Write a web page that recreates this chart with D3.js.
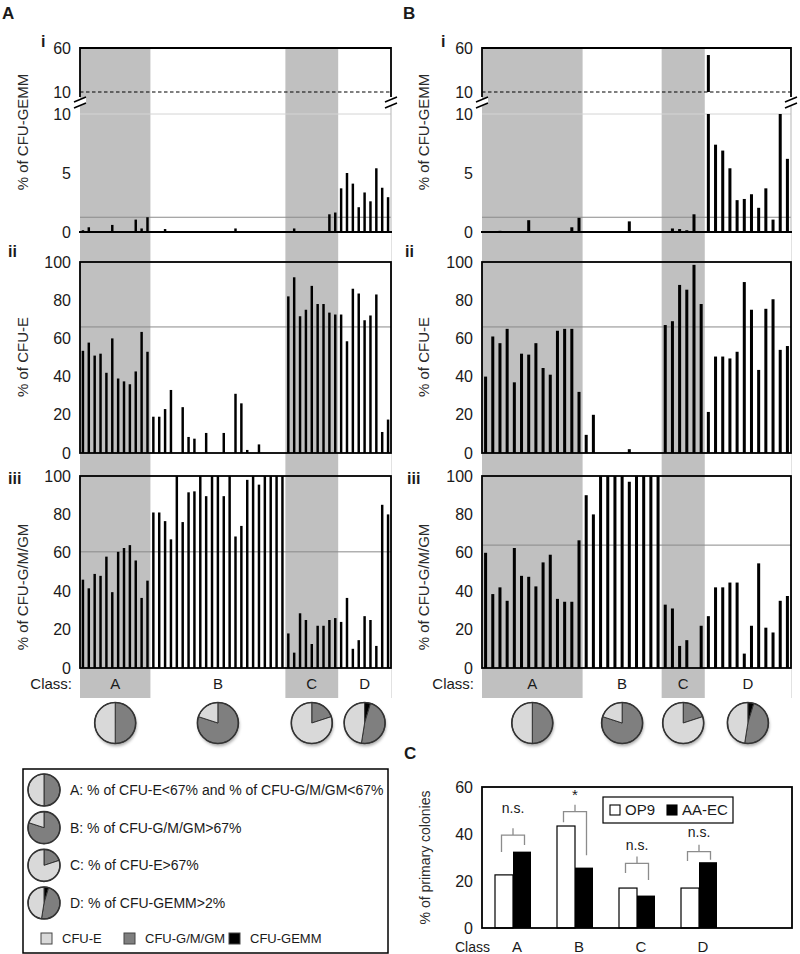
<!DOCTYPE html>
<html><head><meta charset="utf-8">
<script src="https://cdn.jsdelivr.net/npm/d3@7"></script>
<style>
html,body{margin:0;padding:0;background:#fff;}
svg{display:block;font-family:'Liberation Sans',Arial,sans-serif;}
</style></head><body>
<svg id="c" width="800" height="954"></svg>
<script>
// ---------------- data ----------------
const classNames = ['A','B','C','D'];
const classSizesA = [12,23,9,9];
const classSizesB = [14,11,6,12];
const shadedClasses = ['A','C'];

const gemmA = [0.15,0.4,0,0,0,0.6,0,0,0,1.05,0.3,1.25,
  0,0,0.25,0,0,0,0,0,0,0,0,0,0,0,0.3,0,0,0,0,0,0,0,0,
  0,0.3,0,0,0,0,0,1.5,1.65,
  3.7,5.0,4.1,2.1,3.35,2.6,5.4,3.75,2.95];
const eA = [53.5,57.8,51,52,42,60,39,37.5,36,42.7,63.4,53,
  19,19,23,33,0,24,8.4,7.5,0,10.5,0,0,10.5,0,31,26,1.6,0,4.5,0,0,0,0,
  82,92,71.6,75,87.5,78,78,73.5,72.5,
  72.5,58.5,86,83.5,69.5,72,83,11,17.5];
const gmA = [46,41.5,49,48,58,39.5,60.5,62.5,64,56,36.5,45.5,
  81,81,76.5,67,100,76,91.5,92,100,89.5,100,100,89.5,100,68.5,74,98,100,95.5,100,100,100,100,
  18,8,28.5,25,12.5,22,22,25,26,
  24,36.5,10,14.5,27,25,11.5,85,80];

const gemmB = [0,0,0.1,0,0,0,1.0,0,0,0,0,0,0.4,1.2,
  0,0,0,0,0,0,0.9,0,0,0,0,
  0,0.3,0.25,0.15,1.5,0,
  52,7.4,6.9,5.4,2.7,2.8,3.2,2.05,3.7,1.05,10,6.2];
const eB = [40,61,57.5,65,37,52,51.5,57.5,44.5,41,64,65,65,32,
  9.5,20,0,0,0,0,2,0,0,0,0,
  67,69,88,85.5,98.5,78,
  21.5,50.5,50.5,49.5,53,89.5,75,43.5,75.5,80.5,54,56];
const gmB = [60,38.5,42,35,62.5,48,47.5,42.5,55,59,36,34.5,34.5,66.5,
  90,80,100,100,100,100,97,100,100,100,100,
  33,31,11.5,14.5,0,22,
  27,42,42,44.5,44.5,7.5,22,54.5,21,18.5,35,37.5];

const threshGemm = 1.25;
const threshE = 66;
const threshGmA = 60.5;
const threshGmB = 64;

const ticksGemmLow = [0,5,10];
const ticksGemmUp = [10,60];
const ticksPct = [0,20,40,60,80,100];

// pie composition per class: [CFU-GEMM, CFU-G/M/GM, CFU-E]
const pieGemm = [0,0,0,4.7];
const pieGm = [50,80,20,47.8];
const pieE = [50,20,80,47.5];
const seriesNames = ['CFU-E','CFU-G/M/GM','CFU-GEMM'];
const legendTexts = ['A: % of CFU-E<67% and % of CFU-G/M/GM<67%','B: % of CFU-G/M/GM>67%','C: % of CFU-E>67%','D: % of CFU-GEMM>2%'];

// panel C
const primaryClasses = ['A','B','C','D'];
const groups = ['OP9','AA-EC'];
const op9 = [22.6,43.4,17,17];
const aaec = [32.5,25.7,13.8,28];
const ticksC = [0,20,40,60];
const sigLabels = ['n.s.','*','n.s.','n.s.'];
const sigLevel = [51,56.8,35.3,40.9];
const bracketTop = [39.5,49.5,27.5,32.5];
const bracketLeft = [32.3,45,23.4,28.5];
const bracketRight = [35.3,31,20.4,29];

// ---------------- drawing ----------------
const svg = d3.select('#c');
const TXT = '#1a1a1a';
const SHADE = '#c0c0c0';
const colE = '#d9d9d9', colGM = '#7f7f7f', colGEMM = '#000';

const defs = svg.append('defs');
const f = defs.append('filter').attr('id','sh').attr('x','-30%').attr('y','-30%').attr('width','160%').attr('height','170%');
f.append('feDropShadow').attr('dx',1).attr('dy',2.5).attr('stdDeviation',1.6).attr('flood-color','#000').attr('flood-opacity',0.35);

const L = {iTop:48, iDash:92, iLowTop:114, iBot:232, iiTop:262, iiBot:453, iiiTop:476, iiiBot:668, shadeBot:698, classY:684, pieY:723, pieR:20.5};

function drawPie(g, cx, cy, r, k, shadow){
  const vals = [pieGemm[k], pieGm[k], pieE[k]];
  const cols = [colGEMM, colGM, colE];
  const arcs = d3.pie().sort(null).value(d=>d)(vals);
  const arc = d3.arc().innerRadius(0).outerRadius(r);
  const pg = g.append('g').attr('transform',`translate(${cx},${cy})`);
  if (shadow) pg.append('circle').attr('r',r).attr('fill','#fff').attr('filter','url(#sh)');
  pg.selectAll('path').data(arcs).join('path')
    .attr('d',arc).attr('fill',(d,i)=>cols[i])
    .attr('stroke','#333').attr('stroke-width',1);
  pg.append('circle').attr('r',r).attr('fill','none').attr('stroke','#333').attr('stroke-width',1.6);
}

function drawPanel(cfg){
  const g = svg.append('g');
  const n = cfg.e.length;
  const x = d3.scaleBand().domain(d3.range(n)).range([cfg.x0,cfg.x1]).paddingInner(0.58).paddingOuter(0.29);
  const step = x.step();
  let start = 0; const ranges = [];
  cfg.sizes.forEach((s,i)=>{ ranges.push({name:classNames[i], a:cfg.x0+start*step, b:cfg.x0+(start+s)*step}); start += s; });

  g.selectAll('rect.shade').data(ranges.filter(r=>shadedClasses.includes(r.name))).join('rect')
    .attr('x',d=>d.a).attr('width',d=>d.b-d.a).attr('y',L.iTop).attr('height',L.shadeBot-L.iTop).attr('fill',SHADE);
  g.append('line').attr('x1',cfg.x1+0.5).attr('x2',cfg.x1+0.5).attr('y1',L.iBot).attr('y2',L.shadeBot).attr('stroke','#e2e2e2');

  // ---- panel i (broken axis) ----
  const yLow = d3.scaleLinear().domain([0,10]).range([L.iBot,L.iLowTop]);
  const yUp = d3.scaleLinear().domain([10,60]).range([L.iDash,L.iTop]);
  g.append('line').attr('x1',cfg.x0).attr('x2',cfg.x1).attr('y1',yLow(10)).attr('y2',yLow(10)).attr('stroke','#d4d4d4');
  g.append('line').attr('x1',cfg.x0).attr('x2',cfg.x1).attr('y1',yLow(threshGemm)).attr('y2',yLow(threshGemm)).attr('stroke','#8a8a8a').attr('stroke-width',1);
  g.append('line').attr('x1',cfg.x0).attr('x2',cfg.x1).attr('y1',yUp(10)).attr('y2',yUp(10)).attr('stroke','#000').attr('stroke-width',1.2).attr('stroke-dasharray','3.5,2.5');
  g.selectAll('rect.gl').data(cfg.gemm.map((v,i)=>({v,i})).filter(d=>d.v>0)).join('rect')
    .attr('x',d=>x(d.i)).attr('width',x.bandwidth())
    .attr('y',d=>yLow(Math.min(d.v,10))).attr('height',d=>L.iBot-yLow(Math.min(d.v,10))).attr('fill','#000');
  g.selectAll('rect.gu').data(cfg.gemm.map((v,i)=>({v,i})).filter(d=>d.v>10)).join('rect')
    .attr('x',d=>x(d.i)).attr('width',x.bandwidth())
    .attr('y',d=>yUp(Math.min(d.v,60))).attr('height',d=>yUp(10)-yUp(Math.min(d.v,60))).attr('fill','#000');
  g.append('path').attr('d',`M${cfg.x0},${L.iDash+5}V${L.iTop}H${cfg.x1}V${L.iDash+5}`).attr('fill','none').attr('stroke','#000').attr('stroke-width',1.8);
  g.append('line').attr('x1',cfg.x1).attr('x2',cfg.x1).attr('y1',L.iDash+14).attr('y2',L.iBot).attr('stroke','#b5b5b5');
  g.append('line').attr('x1',cfg.x0-1).attr('x2',cfg.x1+1).attr('y1',L.iBot).attr('y2',L.iBot).attr('stroke','#000').attr('stroke-width',2);
  [cfg.x0,cfg.x1].forEach(bx=>{
    const yc = (L.iDash+L.iLowTop)/2 - 2;
    g.append('path').attr('d',`M${bx-6},${yc+1}L${bx+6},${yc-4}L${bx+6},${yc+2}L${bx-6},${yc+7}Z`).attr('fill','#fff');
    g.append('line').attr('x1',bx-6).attr('y1',yc+1).attr('x2',bx+6).attr('y2',yc-4).attr('stroke','#000').attr('stroke-width',1.5);
    g.append('line').attr('x1',bx-6).attr('y1',yc+7).attr('x2',bx+6).attr('y2',yc+2).attr('stroke','#000').attr('stroke-width',1.5);
  });
  const axStyle = sel => { sel.select('.domain').remove(); sel.selectAll('text').attr('font-size',16).attr('fill',TXT).attr('font-family',"'Liberation Sans',Arial,sans-serif"); };
  g.append('g').attr('transform',`translate(${cfg.x0},0)`).call(d3.axisLeft(yLow).tickValues(ticksGemmLow).tickSize(0).tickPadding(9)).call(axStyle);
  g.append('g').attr('transform',`translate(${cfg.x0},0)`).call(d3.axisLeft(yUp).tickValues(ticksGemmUp).tickSize(0).tickPadding(9)).call(axStyle);

  // ---- panels ii & iii ----
  const yE = d3.scaleLinear().domain([0,100]).range([L.iiBot,L.iiTop]);
  const yG = d3.scaleLinear().domain([0,100]).range([L.iiiBot,L.iiiTop]);
  [[yE,cfg.e,threshE],[yG,cfg.gm,cfg.threshGm]].forEach(([y,vals,th])=>{
    g.append('line').attr('x1',cfg.x0).attr('x2',cfg.x1).attr('y1',y(th)).attr('y2',y(th)).attr('stroke','#8a8a8a').attr('stroke-width',1);
    g.append('g').selectAll('rect').data(vals.map((v,i)=>({v,i})).filter(d=>d.v>0)).join('rect')
      .attr('x',d=>x(d.i)).attr('width',x.bandwidth())
      .attr('y',d=>y(d.v)).attr('height',d=>y(0)-y(d.v)).attr('fill','#000');
    g.append('rect').attr('x',cfg.x0).attr('y',y(100)).attr('width',cfg.x1-cfg.x0).attr('height',y(0)-y(100))
      .attr('fill','none').attr('stroke','#000').attr('stroke-width',1.8);
    g.append('g').attr('transform',`translate(${cfg.x0},0)`).call(d3.axisLeft(y).tickValues(ticksPct).tickSize(0).tickPadding(9)).call(axStyle);
  });

  g.append('text').attr('x',cfg.x0-8).attr('y',L.classY).attr('dy','0.35em').attr('text-anchor','end').attr('font-size',15).attr('fill',TXT).text('Class:');
  g.selectAll('text.cl').data(ranges).join('text').attr('class','cl')
    .attr('x',d=>(d.a+d.b)/2).attr('y',L.classY).attr('dy','0.35em').attr('text-anchor','middle').attr('font-size',15).attr('fill',TXT).text(d=>d.name);

  ranges.forEach((r,k)=>drawPie(g,(r.a+r.b)/2,L.pieY,L.pieR,k,true));

  g.append('text').attr('x',cfg.letterX).attr('y',19).attr('font-size',17).attr('font-weight','bold').attr('fill',TXT).text(cfg.letter);
  g.append('text').attr('x',cfg.iX).attr('y',47).attr('font-size',16).attr('font-weight','bold').attr('fill',TXT).text('i');
  g.append('text').attr('x',cfg.iiX).attr('y',257).attr('font-size',16).attr('font-weight','bold').attr('fill',TXT).text('ii');
  g.append('text').attr('x',cfg.iiiX).attr('y',484).attr('font-size',16).attr('font-weight','bold').attr('fill',TXT).text('iii');
  [['% of CFU-GEMM',132],['% of CFU-E',357],['% of CFU-G/M/GM',587]].forEach(([t,yc])=>{
    g.append('text').attr('transform',`translate(${cfg.titleX},${yc}) rotate(-90)`).attr('text-anchor','middle').attr('dy','0.35em')
      .attr('font-size',15).attr('fill','#2a2a2a').text(t);
  });
}

drawPanel({x0:80,x1:391,sizes:classSizesA,gemm:gemmA,e:eA,gm:gmA,threshGm:threshGmA,letter:'A',letterX:2,iX:41,iiX:8,iiiX:8,titleX:23});
drawPanel({x0:482,x1:791,sizes:classSizesB,gemm:gemmB,e:eB,gm:gmB,threshGm:threshGmB,letter:'B',letterX:403,iX:441,iiX:405,iiiX:407,titleX:424});

// ---------------- legend box ----------------
const lg = svg.append('g');
lg.append('rect').attr('x',23).attr('y',769).attr('width',365).attr('height',184).attr('fill','#fff').attr('stroke','#000').attr('stroke-width',1.5);
const legY = d3.scalePoint().domain(d3.range(legendTexts.length)).range([790,903]);
legendTexts.forEach((t,k)=>{
  drawPie(lg,44,legY(k),16,k,false);
  lg.append('text').attr('x',70).attr('y',legY(k)).attr('dy','0.35em').attr('font-size',14).attr('fill',TXT).text(t);
});
const swX = d3.scaleOrdinal().domain(seriesNames).range([41,124,229]);
const swC = d3.scaleOrdinal().domain(seriesNames).range([colE,colGM,colGEMM]);
seriesNames.forEach(s=>{
  lg.append('rect').attr('x',swX(s)).attr('y',933).attr('width',11).attr('height',11).attr('fill',swC(s)).attr('stroke','#444').attr('stroke-width',1);
  lg.append('text').attr('x',swX(s)+21).attr('y',938.5).attr('dy','0.35em').attr('font-size',13).attr('fill',TXT).text(s);
});

// ---------------- panel C ----------------
const cg = svg.append('g');
const cx0 = 482, cx1 = 792, cyTop = 787, cyBot = 928;
const xC = d3.scaleBand().domain([...primaryClasses,'']).range([cx0,cx1]);
const xSub = d3.scaleBand().domain(groups).range([0,36]);
const yC = d3.scaleLinear().domain([0,60]).range([cyBot,cyTop]);
const pairX = c => xC(c)+xC.bandwidth()/2-18;
primaryClasses.forEach((c,k)=>{
  cg.append('rect').attr('x',pairX(c)+xSub('OP9')).attr('width',xSub.bandwidth()).attr('y',yC(op9[k])).attr('height',yC(0)-yC(op9[k]))
    .attr('fill','#fff').attr('stroke','#000').attr('stroke-width',1.2);
  cg.append('rect').attr('x',pairX(c)+xSub('AA-EC')).attr('width',xSub.bandwidth()).attr('y',yC(aaec[k])).attr('height',yC(0)-yC(aaec[k]))
    .attr('fill','#000');
  const mid = pairX(c)+18, bl = mid-11.5, br = mid+11.5, top = yC(bracketTop[k]);
  cg.append('path').attr('d',`M${bl},${yC(bracketLeft[k])}V${top}H${br}V${yC(bracketRight[k])}M${mid},${top}V${top-7}`)
    .attr('fill','none').attr('stroke','#8c8c8c').attr('stroke-width',1.3);
  cg.append('text').attr('x',mid).attr('y',yC(sigLevel[k])).attr('dy','0.35em').attr('text-anchor','middle')
    .attr('font-size',sigLabels[k]==='*'?15:14).attr('fill',TXT).text(sigLabels[k]);
  cg.append('text').attr('x',mid+4).attr('y',947).attr('dy','0.35em').attr('text-anchor','middle').attr('font-size',15).attr('fill',TXT).text(c);
});
cg.append('rect').attr('x',cx0).attr('y',cyTop).attr('width',cx1-cx0).attr('height',cyBot-cyTop).attr('fill','none').attr('stroke','#000').attr('stroke-width',1.8);
cg.append('g').attr('transform',`translate(${cx0},0)`).call(d3.axisLeft(yC).tickValues(ticksC).tickSize(0).tickPadding(9))
  .call(sel=>{sel.select('.domain').remove(); sel.selectAll('text').attr('font-size',16).attr('fill',TXT).attr('font-family',"'Liberation Sans',Arial,sans-serif");});
cg.append('text').attr('x',455).attr('y',947).attr('dy','0.35em').attr('font-size',14).attr('fill',TXT).text('Class');
cg.append('text').attr('transform',`translate(425,${(cyTop+cyBot)/2}) rotate(-90)`).attr('text-anchor','middle').attr('dy','0.35em')
  .attr('font-size',14).attr('fill','#2a2a2a').text('% of primary colonies');
cg.append('text').attr('x',404).attr('y',759).attr('font-size',17).attr('font-weight','bold').attr('fill',TXT).text('C');
const lc = cg.append('g');
lc.append('rect').attr('x',603).attr('y',797).attr('width',130).attr('height',26).attr('fill','#fff').attr('stroke','#000').attr('stroke-width',1.2);
const lcX = d3.scaleOrdinal().domain(groups).range([610,667]);
groups.forEach((gname,i)=>{
  lc.append('rect').attr('x',lcX(gname)).attr('y',805).attr('width',10).attr('height',10)
    .attr('fill',i===0?'#fff':'#000').attr('stroke','#000').attr('stroke-width',1.1);
  lc.append('text').attr('x',lcX(gname)+15).attr('y',810).attr('dy','0.35em').attr('font-size',15).attr('fill',TXT).text(gname);
});
</script>
</body></html>
